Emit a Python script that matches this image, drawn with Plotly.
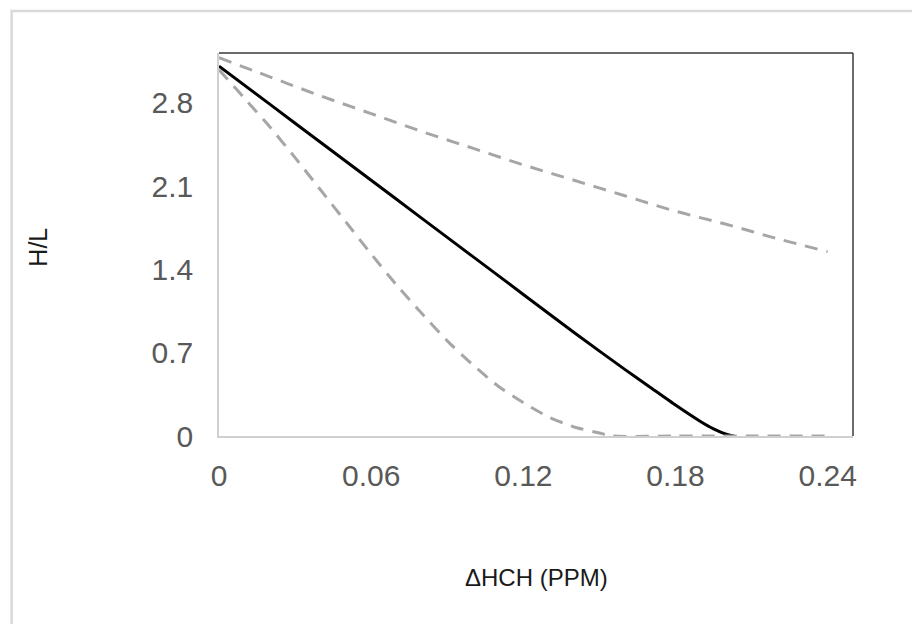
import plotly.graph_objects as go

# Data
x_black = [0, 0.02, 0.04, 0.06, 0.08, 0.10, 0.12, 0.14, 0.16, 0.17, 0.18, 0.19, 0.195, 0.20, 0.203]
y_black = [3.11, 2.79, 2.47, 2.15, 1.83, 1.51, 1.19, 0.87, 0.56, 0.41, 0.26, 0.12, 0.06, 0.015, 0.0]

x_upper = [0, 0.02, 0.04, 0.06, 0.08, 0.10, 0.12, 0.14, 0.16, 0.18, 0.20, 0.22, 0.24]
y_upper = [3.18, 3.02, 2.86, 2.71, 2.56, 2.42, 2.28, 2.15, 2.02, 1.89, 1.78, 1.66, 1.55]

x_lower = [0, 0.01, 0.02, 0.03, 0.04, 0.05, 0.06, 0.07, 0.08, 0.09, 0.10, 0.11, 0.12,
           0.13, 0.14, 0.15, 0.155, 0.18, 0.21, 0.24]
y_lower = [3.08, 2.84, 2.60, 2.34, 2.07, 1.80, 1.53, 1.27, 1.03, 0.80, 0.60, 0.42, 0.28,
           0.16, 0.076, 0.025, 0.0, 0.0, 0.0, 0.0]

x_ticks = [0, 0.06, 0.12, 0.18, 0.24]
x_ticktext = ["0", "0.06", "0.12", "0.18", "0.24"]
y_ticks = [0, 0.7, 1.4, 2.1, 2.8]
y_ticktext = ["0", "0.7", "1.4", "2.1", "2.8"]

FONT = "Arial, Liberation Sans, sans-serif"
GRAY_DASH = "#a6a6a6"

fig = go.Figure()
fig.add_trace(go.Scatter(x=x_black, y=y_black, mode="lines",
                         line=dict(color="#000000", width=3, shape="spline", smoothing=0.6),
                         showlegend=False))
fig.add_trace(go.Scatter(x=x_upper, y=y_upper, mode="lines",
                         line=dict(color=GRAY_DASH, width=3, dash="13px,9px", shape="spline"),
                         showlegend=False))
fig.add_trace(go.Scatter(x=x_lower, y=y_lower, mode="lines",
                         line=dict(color=GRAY_DASH, width=3, dash="13px,9px", shape="spline", smoothing=0.6),
                         showlegend=False))

L, R, T, B = 218.5, 853, 53, 436
W, H = 912, 624

def px2paper_x(px):
    return (px - L) / (R - L)

def px2paper_y(py):
    return (B - py) / (B - T)

fig.update_layout(
    width=W, height=H,
    margin=dict(l=L, r=W - R, t=T, b=H - B),
    paper_bgcolor="white", plot_bgcolor="white",
    font=dict(family=FONT),
    xaxis=dict(range=[0, 0.25], tickvals=x_ticks, ticktext=x_ticktext,
               showgrid=False, zeroline=False, showline=True, linecolor="#d0d0d0", linewidth=1.5,
               ticks="outside", ticklen=12, tickcolor="rgba(0,0,0,0)",
               tickfont=dict(size=30, color="#595959", family=FONT)),
    yaxis=dict(range=[0, 3.22], tickvals=y_ticks, ticktext=y_ticktext,
               showgrid=False, zeroline=False, showline=True, linecolor="#d0d0d0", linewidth=1.5,
               ticks="outside", ticklen=18, tickcolor="rgba(0,0,0,0)",
               tickfont=dict(size=30, color="#595959", family=FONT)),
    shapes=[
        dict(type="line", xref="paper", yref="paper", x0=0, x1=1, y0=1, y1=1,
             line=dict(color="#3a3a3a", width=1.5)),
        dict(type="line", xref="paper", yref="paper", x0=1, x1=1, y0=0, y1=1,
             line=dict(color="#3a3a3a", width=1.5)),
        dict(type="rect", xref="paper", yref="paper",
             x0=px2paper_x(11), x1=px2paper_x(930), y0=px2paper_y(640), y1=px2paper_y(11),
             line=dict(color="#d9d9d9", width=2.5), fillcolor="rgba(0,0,0,0)", layer="below"),
    ],
    annotations=[
        dict(text="ΔHCH (PPM)", xref="paper", yref="paper", x=0.5, y=px2paper_y(577),
             xanchor="center", yanchor="middle", showarrow=False,
             font=dict(size=24, color="#1a1a1a", family=FONT)),
        dict(text="H/L", xref="paper", yref="paper", x=px2paper_x(37), y=px2paper_y(247),
             xanchor="center", yanchor="middle", showarrow=False, textangle=-90,
             font=dict(size=25, color="#1a1a1a", family=FONT)),
    ],
)

fig.write_html("out.html")
